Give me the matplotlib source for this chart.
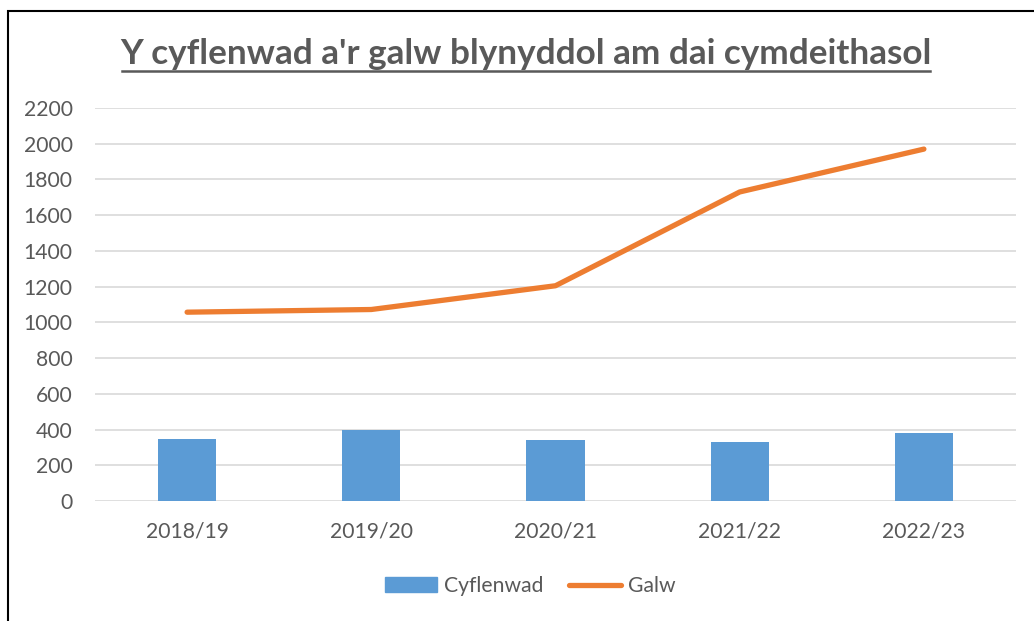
import matplotlib
matplotlib.use("Agg")
import matplotlib.pyplot as plt
from matplotlib.patches import Rectangle
from matplotlib.lines import Line2D

categories = ["2018/19", "2019/20", "2020/21", "2021/22", "2022/23"]
cyflenwad = [345, 400, 340, 328, 383]
galw = [1057, 1072, 1205, 1730, 1970]
yticks = list(range(0, 2201, 200))

plt.rcParams['font.family'] = ['Lato', 'DejaVu Sans']
txt = '#595959'

fig = plt.figure(figsize=(10.34, 6.21), dpi=100)
ax = fig.add_axes([95/1034, 120/621, (1016-95)/1034, (501-108)/621])

x = list(range(len(categories)))
ax.bar(x, cyflenwad, width=0.315, color='#5B9BD5', zorder=2, label='Cyflenwad')
ax.plot(x, galw, color='#ED7D31', linewidth=3.8, solid_capstyle='round',
        solid_joinstyle='round', zorder=3, label='Galw')

ax.set_xlim(-0.5, len(categories) - 0.5)
ax.set_ylim(0, 2200)
ax.set_yticks(yticks)
ax.set_yticklabels([str(v) for v in yticks])
ax.set_xticks(x)
ax.set_xticklabels(categories)
ax.grid(axis='y', color='#d9d9d9', linewidth=1.2, zorder=0)
ax.set_axisbelow(True)
for s in ax.spines.values():
    s.set_visible(False)
ax.tick_params(axis='both', length=0, labelsize=15.2, colors=txt)
ax.tick_params(axis='y', pad=16)
ax.tick_params(axis='x', pad=15)

fig.text(526/1034, 1 - 54/621, "Y cyflenwad a'r galw blynyddol am dai cymdeithasol",
         ha='center', va='center', fontsize=25.3, fontweight='bold', color=txt)
# underline
fig.add_artist(Line2D([122/1034, 930/1034], [1 - 70.5/621, 1 - 70.5/621],
                      color=txt, linewidth=1.8, transform=fig.transFigure))

handles = [Rectangle((0, 0), 1, 1, color='#5B9BD5'),
           Line2D([0], [0], color='#ED7D31', linewidth=3.8, solid_capstyle='round')]
fig.legend(handles, ['Cyflenwad', 'Galw'], loc='center', bbox_to_anchor=(530/1034, 1 - 586/621),
           ncol=2, frameon=False, fontsize=15.2, labelcolor=txt, handlelength=2.5,
           handletextpad=0.3, columnspacing=1.2)

# outer border (left and top visible)
fig.add_artist(Rectangle((7.5/1034, -0.1), 1.2, 1 - 10.5/621 + 0.1, fill=False,
                         edgecolor='black', linewidth=1.5, transform=fig.transFigure))

fig.savefig('out.png', dpi=100)
